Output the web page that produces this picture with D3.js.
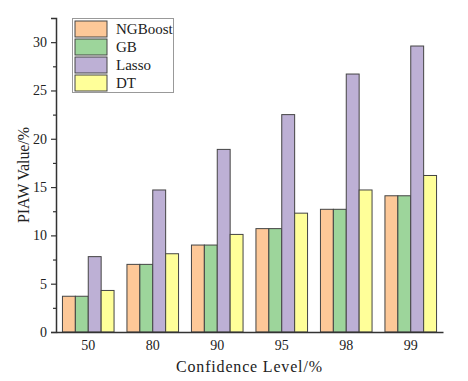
<!DOCTYPE html>
<html><head><meta charset="utf-8">
<script src="https://cdn.jsdelivr.net/npm/d3@7"></script>
<style>body{margin:0;background:#fff}svg{display:block}</style>
</head><body><div id="chart"></div>
<script>
const categories = ["50","80","90","95","98","99"];
const seriesNames = ["NGBoost","GB","Lasso","DT"];
const ngboost = [3.7, 7.0, 9.0, 10.7, 12.7, 14.1];
const gb      = [3.7, 7.0, 9.0, 10.7, 12.7, 14.1];
const lasso   = [7.8, 14.7, 18.9, 22.5, 26.7, 29.6];
const dt      = [4.3, 8.1, 10.1, 12.3, 14.7, 16.2];
const yTicks = [0,5,10,15,20,25,30];
const colors = ["#FDC898","#9DD59B","#BDB0D5","#FFFF99"];
const seriesValues = [ngboost, gb, lasso, dt];

const W = 468, H = 381;
const m = {left:56, right:25, top:18, bottom:49};
const svg = d3.select("#chart").append("svg").attr("width",W).attr("height",H);
const font = "'Liberation Serif', 'Times New Roman', serif";

const x = d3.scaleBand().domain(categories).range([m.left, W-m.right]).paddingInner(0.2).paddingOuter(0.1);
const xs = d3.scaleBand().domain(seriesNames).range([0, x.bandwidth()]);
const y = d3.scaleLinear().domain([0, 32.5]).range([H-m.bottom, m.top]);

// bars
categories.forEach((c, ci) => {
  seriesNames.forEach((s, si) => {
    svg.append("rect")
      .attr("x", x(c) + xs(s))
      .attr("y", y(seriesValues[si][ci]))
      .attr("width", xs.bandwidth())
      .attr("height", y(0) - y(seriesValues[si][ci]))
      .attr("fill", colors[si])
      .attr("stroke", "#444").attr("stroke-width", 1);
  });
});

// y axis
const yAxis = d3.axisLeft(y).tickValues(yTicks).tickSize(5).tickPadding(4);
const gy = svg.append("g").attr("transform", `translate(${m.left},0)`).call(yAxis);
gy.select(".domain").attr("stroke","#333").attr("stroke-width",1.5);
gy.selectAll(".tick line").attr("stroke","#333").attr("stroke-width",1.2);
gy.selectAll("text").attr("font-family", font).attr("font-size", 14).attr("fill","#222");
// minor ticks
const minor = d3.range(2.5, 32.5, 5);
svg.append("g").attr("transform", `translate(${m.left},0)`).call(d3.axisLeft(y).tickValues(minor).tickSize(3).tickFormat(""))
  .call(g => { g.select(".domain").remove(); g.selectAll(".tick line").attr("stroke","#333").attr("stroke-width",1.2); });

// x axis
const xAxis = d3.axisBottom(x).tickSize(0).tickPadding(8);
const gx = svg.append("g").attr("transform", `translate(0,${y(0)})`).call(xAxis);
gx.select(".domain").attr("stroke","#333").attr("stroke-width",1.5);
gx.selectAll("text").attr("font-family", font).attr("font-size", 14).attr("fill","#222");

// titles
svg.append("text").attr("x", 249).attr("y", 372)
  .attr("text-anchor","middle").attr("font-family", font).attr("font-size", 16).attr("fill","#222")
  .attr("textLength", 146).attr("lengthAdjust","spacing")
  .text("Confidence Level/%");
svg.append("text").attr("transform", `translate(29,175) rotate(-90)`)
  .attr("text-anchor","middle").attr("font-family", font).attr("font-size", 16).attr("fill","#222")
  .attr("textLength", 96).attr("lengthAdjust","spacing")
  .text("PIAW Value/%");

// legend
const lg = svg.append("g");
lg.append("rect").attr("x",72.5).attr("y",18.5).attr("width",101).attr("height",74)
  .attr("fill","#fff").attr("stroke","#999").attr("stroke-width",1);
seriesNames.forEach((s, i) => {
  lg.append("rect").attr("x",75).attr("y",21 + i*18).attr("width",32).attr("height",16)
    .attr("fill", colors[i]).attr("stroke","#444").attr("stroke-width",1);
  lg.append("text").attr("x",116).attr("y",29 + i*18).attr("dy","0.35em")
    .attr("font-family", font).attr("font-size", 15).attr("fill","#222").text(s);
});
</script></body></html>
